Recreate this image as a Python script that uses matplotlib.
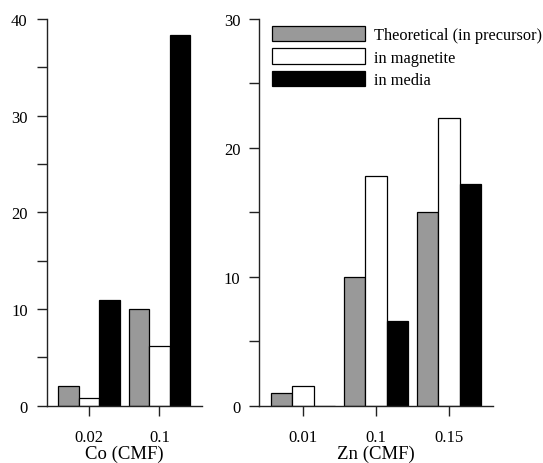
import matplotlib
matplotlib.use("Agg")
import matplotlib.pyplot as plt
import numpy as np
from matplotlib.ticker import MultipleLocator

plt.rcParams['font.family'] = ['Liberation Serif', 'DejaVu Serif']

co_labels = ['0.02', '0.1']
co_theoretical = [2.0, 10.0]
co_magnetite = [0.8, 6.2]
co_media = [10.9, 38.3]

zn_labels = ['0.01', '0.1', '0.15']
zn_theoretical = [1.0, 10.0, 15.0]
zn_magnetite = [1.55, 17.8, 22.3]
zn_media = [0.0, 6.55, 17.2]

series_names = ['Theoretical (in precursor)', 'in magnetite', 'in media']
colors = ['#999999', '#ffffff', '#000000']

W, H = 543, 464
fig = plt.figure(figsize=(W / 100, H / 100), dpi=100)

ax1 = fig.add_axes([46.7 / W, 1 - 406.7 / H, 155 / W, 386.7 / H])
ax2 = fig.add_axes([259.3 / W, 1 - 406.7 / H, 233.4 / W, 386.7 / H])

bw = 0.29

def draw(ax, labels, vals, ymax, xlabel):
    x = np.arange(len(labels))
    handles = []
    for i, (v, c) in enumerate(zip(vals, colors)):
        h = ax.bar(x + (i - 1) * bw, v, bw, color=c, edgecolor='black',
                   linewidth=0.9, label=series_names[i], zorder=2)
        handles.append(h)
    ax.set_xlim(-0.6, len(labels) - 0.4)
    ax.set_ylim(0, ymax)
    ax.set_xticks(x)
    ax.set_xticklabels(labels)
    ax.yaxis.set_major_locator(MultipleLocator(10))
    ax.yaxis.set_minor_locator(MultipleLocator(5))
    for s in ['top', 'right']:
        ax.spines[s].set_visible(False)
    for s in ['left', 'bottom']:
        ax.spines[s].set_linewidth(1.0)
        ax.spines[s].set_color('#222222')
        ax.spines[s].set_zorder(3)
    ax.tick_params(axis='y', which='both', direction='out', length=7.2,
                   width=1.0, color='#222222', labelsize=12, pad=6.5)
    ax.tick_params(axis='x', which='both', direction='out', length=7,
                   width=1.0, color='#222222', labelsize=12, pad=9.6)
    ax.set_xlabel(xlabel, fontsize=13.5, labelpad=-0.3)
    return handles

draw(ax1, co_labels, [co_theoretical, co_magnetite, co_media], 40, 'Co (CMF)')
handles = draw(ax2, zn_labels, [zn_theoretical, zn_magnetite, zn_media], 30, 'Zn (CMF)')

fs = 11.8
fpx = fs * 100 / 72
leg = ax2.legend(handles=handles, loc='upper left',
                 bbox_to_anchor=(271.5 / W, 1 - 26.5 / H),
                 bbox_transform=fig.transFigure, frameon=False,
                 fontsize=fs, handlelength=93 / fpx,
                 handleheight=17.5 / fpx,
                 handletextpad=10 / fpx, labelspacing=5.5 / fpx,
                 borderpad=0, borderaxespad=0)

fig.savefig('out.png', dpi=100)
